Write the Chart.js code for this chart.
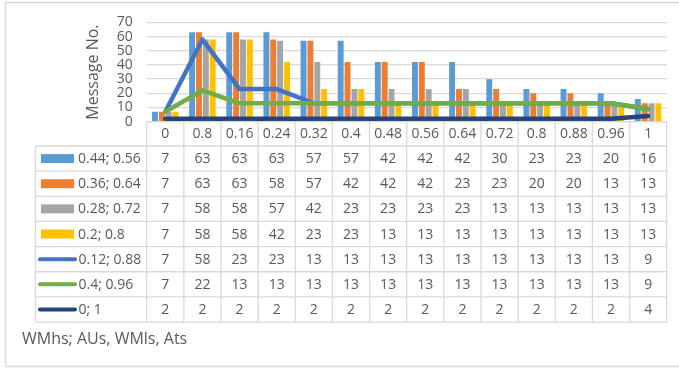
<!DOCTYPE html>
<html>
<head>
<meta charset="utf-8">
<script src="https://cdn.jsdelivr.net/npm/chart.js@4.4.1/dist/chart.umd.min.js"></script>
<style>
  html, body { margin: 0; padding: 0; background: #fff; }
  canvas { display: block; }
</style>
</head>
<body>
<canvas id="c" width="679" height="369"></canvas>
<script>
// Categories along the x axis
const categories = ['0', '0.8', '0.16', '0.24', '0.32', '0.4', '0.48', '0.56', '0.64', '0.72', '0.8', '0.88', '0.96', '1'];

// Series names (weights)
const seriesLabels = ['0.44; 0.56', '0.36; 0.64', '0.28; 0.72', '0.2; 0.8', '0.12; 0.88', '0.4; 0.96', '0; 1'];

// Message counts per series
const valuesA = [7, 63, 63, 63, 57, 57, 42, 42, 42, 30, 23, 23, 20, 16];
const valuesB = [7, 63, 63, 58, 57, 42, 42, 42, 23, 23, 20, 20, 13, 13];
const valuesC = [7, 58, 58, 57, 42, 23, 23, 23, 23, 13, 13, 13, 13, 13];
const valuesD = [7, 58, 58, 42, 23, 23, 13, 13, 13, 13, 13, 13, 13, 13];
const valuesE = [7, 58, 23, 23, 13, 13, 13, 13, 13, 13, 13, 13, 13, 9];
const valuesF = [7, 22, 13, 13, 13, 13, 13, 13, 13, 13, 13, 13, 13, 9];
const valuesG = [2, 2, 2, 2, 2, 2, 2, 2, 2, 2, 2, 2, 2, 4];

// Y axis ticks and texts
const yTicks = [0, 10, 20, 30, 40, 50, 60, 70];
const axisTitle = 'Message No.';
const footnote = 'WMhs; AUs, WMls, Ats';

const colors = ['#5B9BD5', '#ED7D31', '#A5A5A5', '#FFC000', '#4472C4', '#70AD47', '#264478'];
const allValues = [valuesA, valuesB, valuesC, valuesD, valuesE, valuesF, valuesG];
const kinds = ['bar', 'bar', 'bar', 'bar', 'line', 'line', 'line'];
const drawOrder = [4, 4, 4, 4, 3, 2, 1];

const FONT = '"Open Sans", "Noto Sans", sans-serif';
const TEXT = '#595959';
const LINE = '#d9d9d9';

const datasets = allValues.map((vals, i) => {
  const base = {
    type: kinds[i],
    label: seriesLabels[i],
    data: vals,
    order: drawOrder[i],
    backgroundColor: colors[i],
    borderColor: colors[i]
  };
  if (kinds[i] === 'bar') {
    return Object.assign(base, {
      borderWidth: 0,
      categoryPercentage: 0.74,
      barPercentage: 0.86
    });
  }
  return Object.assign(base, {
    borderWidth: 4.5,
    pointRadius: 0,
    tension: 0,
    fill: false,
    borderJoinStyle: 'round',
    borderCapStyle: 'round'
  });
});

// Frame around the chart, the data table under the plot, and the footnote
const tablePlugin = {
  id: 'dataTable',
  beforeDraw(chart) {
    const ctx = chart.ctx;
    ctx.save();
    ctx.strokeStyle = LINE;
    ctx.lineWidth = 1.5;
    ctx.strokeRect(5.5, 2.5, 690, 364);
    ctx.restore();
  },
  afterDraw(chart) {
    const ctx = chart.ctx;
    const xs = chart.scales.x;
    const area = chart.chartArea;
    const n = categories.length;
    const step = xs.getPixelForValue(1) - xs.getPixelForValue(0);
    const left = xs.getPixelForValue(0) - step / 2;
    const right = left + step * n;
    const top = area.bottom;
    const headH = 24.3;
    const rowH = 25.15;
    const legendLeft = 35.5;
    const rowsTop = top + headH;
    const bottom = rowsTop + rowH * seriesLabels.length;

    ctx.save();
    ctx.strokeStyle = LINE;
    ctx.lineWidth = 1.3;
    ctx.beginPath();
    // horizontal lines
    ctx.moveTo(left, top); ctx.lineTo(right, top);
    for (let r = 0; r <= seriesLabels.length; r++) {
      const y = rowsTop + r * rowH;
      ctx.moveTo(legendLeft, y); ctx.lineTo(right, y);
    }
    // vertical lines
    for (let c = 0; c <= n; c++) {
      const x = left + c * step;
      ctx.moveTo(x, top); ctx.lineTo(x, bottom);
    }
    ctx.moveTo(legendLeft, rowsTop); ctx.lineTo(legendLeft, bottom);
    ctx.stroke();

    ctx.fillStyle = TEXT;
    ctx.font = '14px ' + FONT;
    ctx.textBaseline = 'middle';
    ctx.textAlign = 'center';
    categories.forEach((c, i) => {
      ctx.fillText(c, xs.getPixelForValue(i), top + headH / 2 + 0.5);
    });
    allValues.forEach((vals, r) => {
      const cy = rowsTop + r * rowH + rowH / 2 + 0.5;
      vals.forEach((v, i) => {
        ctx.fillText(String(v), xs.getPixelForValue(i), cy);
      });
    });

    // legend keys and names
    seriesLabels.forEach((name, r) => {
      const cy = rowsTop + r * rowH + rowH / 2;
      if (kinds[r] === 'bar') {
        ctx.fillStyle = colors[r];
        ctx.fillRect(41, cy - 4.5, 33, 9);
      } else {
        ctx.strokeStyle = colors[r];
        ctx.lineWidth = 4;
        ctx.lineCap = 'round';
        ctx.beginPath();
        ctx.moveTo(40, cy); ctx.lineTo(75, cy);
        ctx.stroke();
      }
      ctx.fillStyle = TEXT;
      ctx.textAlign = 'left';
      ctx.fillText(name, kinds[r] === 'bar' ? 78 : 78.5, cy + 0.5);
    });

    ctx.font = '16px ' + FONT;
    ctx.fillText(footnote, 22, 339);
    ctx.restore();
  }
};

new Chart(document.getElementById('c'), {
  type: 'bar',
  data: { labels: categories, datasets },
  options: {
    responsive: false,
    animation: false,
    layout: { padding: { left: 80, right: 12.3, top: 21, bottom: 247.3 } },
    plugins: { legend: { display: false }, tooltip: { enabled: false } },
    scales: {
      x: {
        display: false,
        offset: true,
        grid: { display: false }
      },
      y: {
        min: 0,
        max: 70,
        afterFit(scale) { scale.width = 66.7; },
        afterBuildTicks(scale) { scale.ticks = yTicks.map(v => ({ value: v })); },
        border: { display: false },
        grid: { color: LINE, lineWidth: 1.3, drawTicks: false },
        ticks: { color: TEXT, font: { family: FONT, size: 14 }, padding: 14, autoSkip: false },
        title: {
          display: true,
          text: axisTitle,
          color: TEXT,
          font: { family: FONT, size: 16 },
          padding: { top: 4, bottom: 4 }
        }
      }
    }
  },
  plugins: [tablePlugin]
});
</script>
</body>
</html>
